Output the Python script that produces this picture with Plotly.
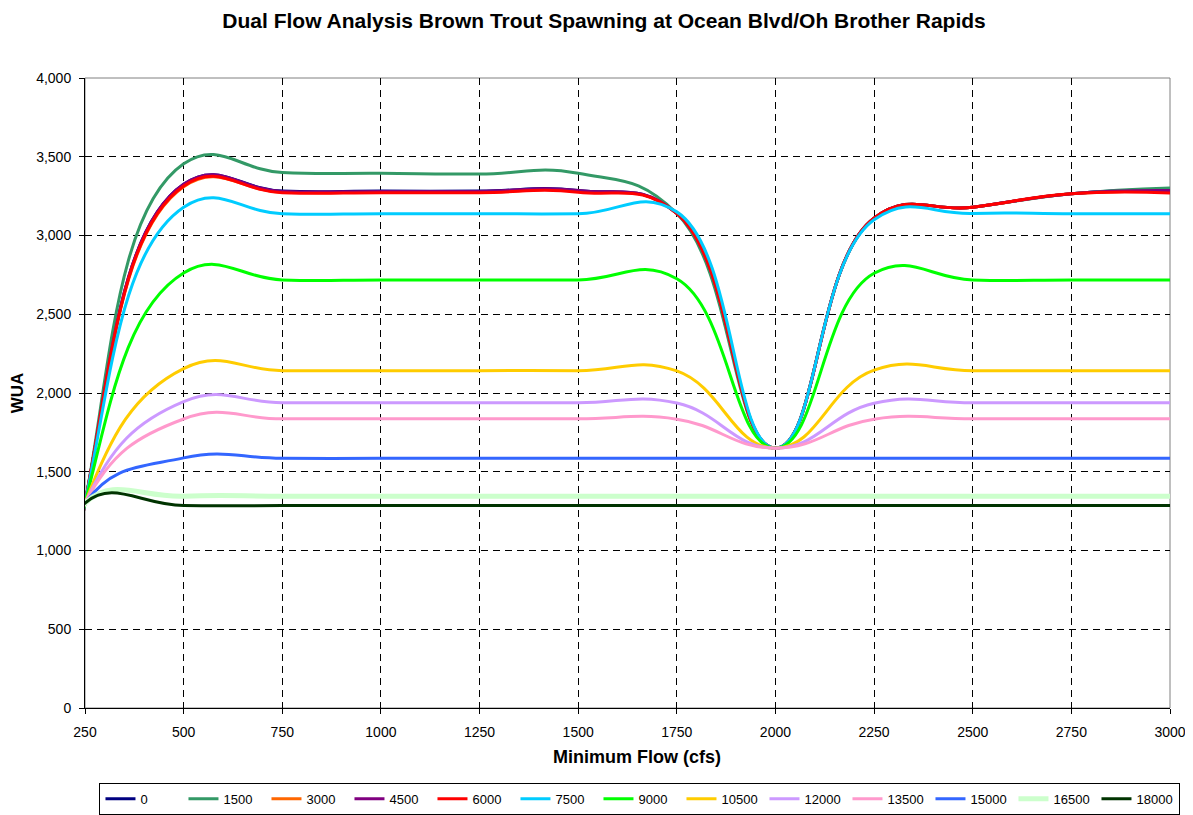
import plotly.graph_objects as go

# Minimum flow (cfs) sample points (first point lies left of the visible axis)
flows = [200, 250, 500, 750, 1000, 1250, 1500, 1750, 2000, 2250, 2500, 2750, 3000]

series_names = ["0", "1500", "3000", "4500", "6000", "7500", "9000",
                "10500", "12000", "13500", "15000", "16500", "18000"]

wua_0     = [0, 1300, 3325, 3282, 3282, 3282, 3285, 3140, 1650, 3110, 3180, 3265, 3290]
wua_1500  = [0, 1300, 3455, 3400, 3395, 3390, 3395, 3140, 1650, 3110, 3180, 3265, 3302]
wua_3000  = [0, 1300, 3310, 3275, 3275, 3275, 3280, 3140, 1650, 3110, 3180, 3265, 3280]
wua_4500  = [0, 1300, 3325, 3280, 3280, 3280, 3285, 3140, 1650, 3110, 3180, 3265, 3285]
wua_6000  = [0, 1300, 3315, 3272, 3272, 3272, 3275, 3140, 1650, 3110, 3180, 3265, 3270]
wua_7500  = [0, 1300, 3180, 3138, 3138, 3138, 3138, 3150, 1650, 3100, 3140, 3138, 3138]
wua_9000  = [0, 1300, 2762, 2718, 2718, 2718, 2718, 2725, 1650, 2760, 2718, 2718, 2718]
wua_10500 = [0, 1300, 2155, 2142, 2142, 2142, 2142, 2140, 1650, 2145, 2142, 2142, 2142]
wua_12000 = [0, 1300, 1945, 1938, 1938, 1938, 1938, 1936, 1650, 1935, 1938, 1938, 1938]
wua_13500 = [0, 1300, 1835, 1836, 1836, 1836, 1836, 1834, 1650, 1834, 1836, 1836, 1836]
wua_15000 = [0, 1300, 1588, 1585, 1585, 1585, 1585, 1585, 1585, 1585, 1585, 1585, 1585]
wua_16500 = [0, 1300, 1345, 1345, 1345, 1345, 1345, 1345, 1345, 1345, 1345, 1345, 1345]
wua_18000 = [0, 1300, 1285, 1285, 1285, 1285, 1285, 1285, 1285, 1285, 1285, 1285, 1285]

all_values = [wua_0, wua_1500, wua_3000, wua_4500, wua_6000, wua_7500, wua_9000,
              wua_10500, wua_12000, wua_13500, wua_15000, wua_16500, wua_18000]

colors = ["#000080", "#339966", "#FF6600", "#800080", "#FF0000", "#00CCFF", "#00FF00",
          "#FFCC00", "#CC99FF", "#FF99CC", "#3366FF", "#CCFFCC", "#003300"]
widths = [3, 3, 3, 3, 3, 3, 3, 3, 3, 3, 3, 5, 3]

FONT = "Arial, Liberation Sans, sans-serif"

fig = go.Figure()
for name, vals, col, w in zip(series_names, all_values, colors, widths):
    fig.add_trace(go.Scatter(
        x=flows, y=vals, name=name, mode="lines",
        line=dict(color=col, width=w, shape="spline", smoothing=1.3),
    ))

fig.update_layout(
    width=1185, height=807,
    paper_bgcolor="white", plot_bgcolor="white",
    margin=dict(l=77, r=23, t=70, b=107, autoexpand=False),
    font=dict(family=FONT, color="black", size=13),
    title=dict(text="<b>Dual Flow Analysis Brown Trout Spawning at Ocean Blvd/Oh Brother Rapids</b>",
               x=0.503, xanchor="center", y=0.9839, yanchor="middle",
               font=dict(size=21, family=FONT)),
    showlegend=True,
    legend=dict(orientation="h", x=0.5115, xanchor="center",
                yref="container", y=0.04, yanchor="top",
                bordercolor="black", borderwidth=1, bgcolor="white",
                font=dict(size=13), itemwidth=30, tracegroupgap=0,
                entrywidth=38, entrywidthmode="pixels"),
    shapes=[dict(type="rect", xref="paper", yref="paper", x0=0, x1=1, y0=0, y1=1,
                 line=dict(color="#808080", width=1), layer="below")],
    annotations=[dict(text="<b>Minimum Flow (cfs)</b>", xref="paper", yref="paper",
                      x=0.5088, y=-0.0778, xanchor="center", yanchor="middle",
                      showarrow=False, font=dict(size=18, family=FONT))],
)

fig.update_xaxes(
    range=[250, 3000], tick0=250, dtick=250, tickformat="d",
    showgrid=True, gridcolor="black", gridwidth=1, griddash="7px,5px",
    showline=True, linecolor="black", linewidth=1,
    ticks="outside", ticklen=5, tickcolor="black", ticklabelstandoff=6,
    tickfont=dict(size=14), automargin=False,
    zeroline=False,
)
fig.update_yaxes(
    range=[0, 4000], dtick=500, tickformat=",",
    showgrid=True, gridcolor="black", gridwidth=1, griddash="7px,5px",
    showline=True, linecolor="black", linewidth=1,
    ticks="outside", ticklen=5, tickcolor="black", ticklabelstandoff=5,
    tickfont=dict(size=14), automargin=False,
    zeroline=False,
    title=dict(text="<b>WUA</b>", font=dict(size=17), standoff=9),
)

fig.write_html("out.html")
